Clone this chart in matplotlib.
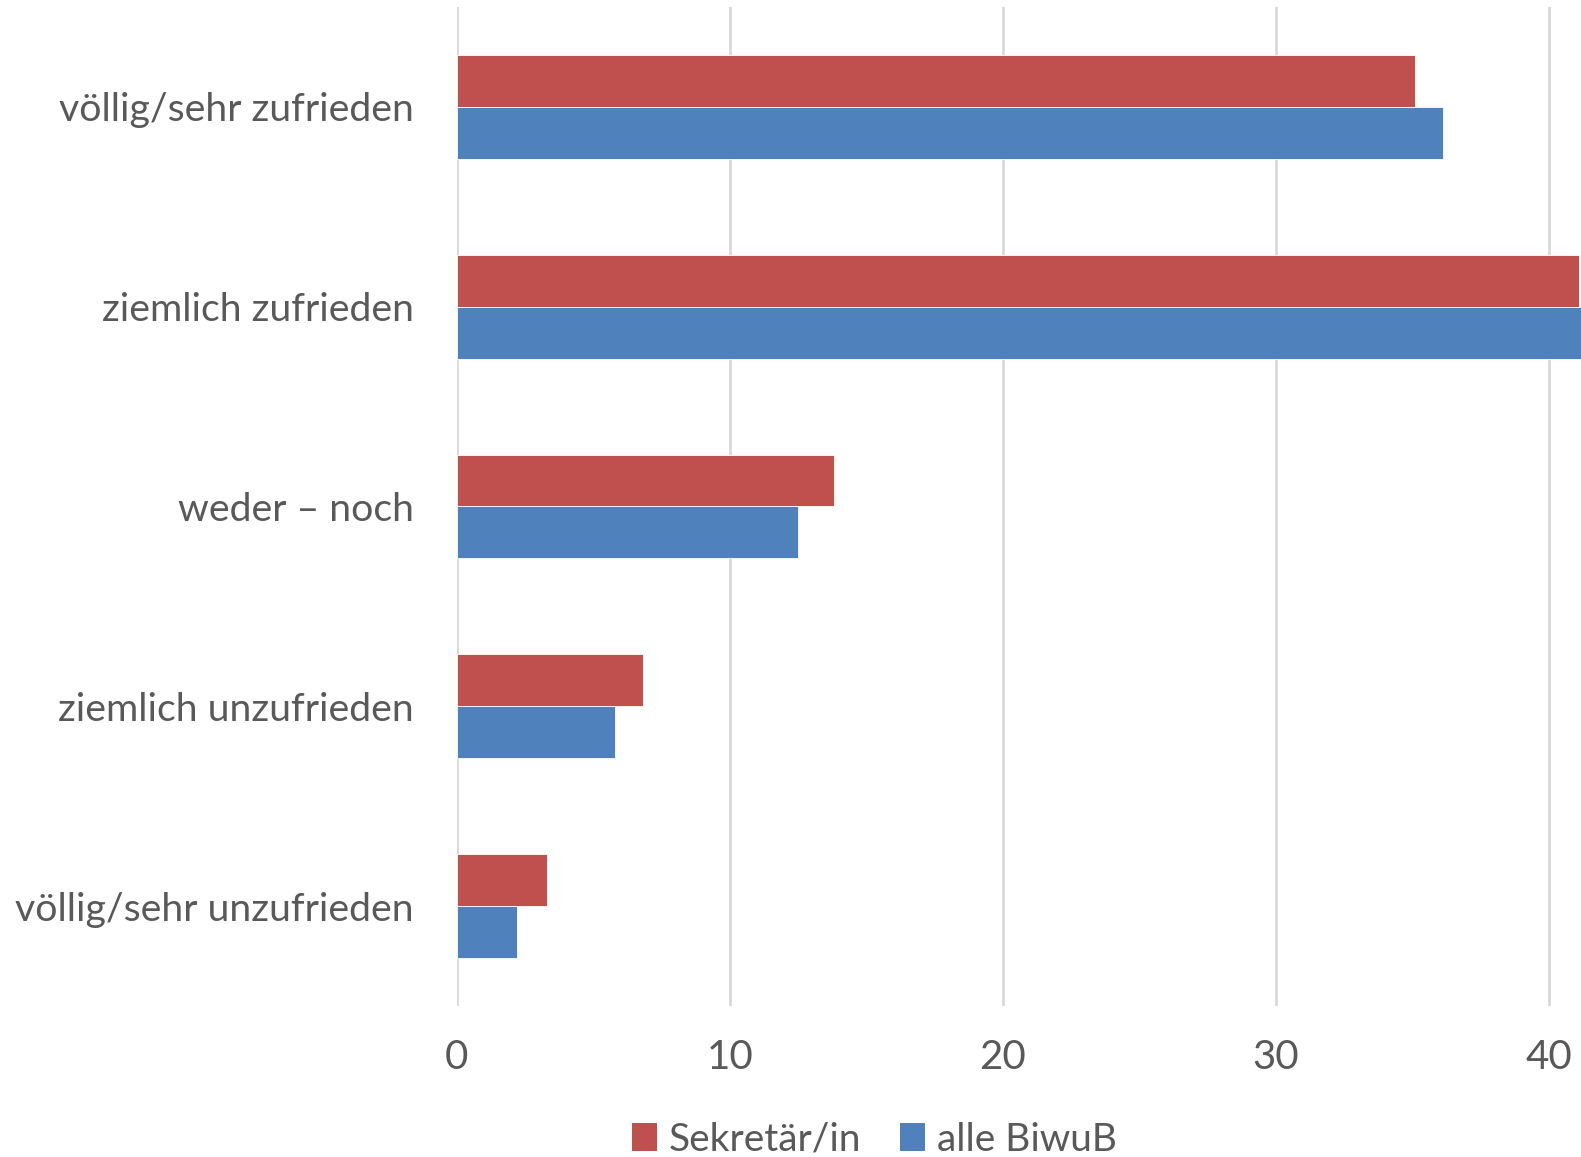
import numpy as np
import matplotlib
matplotlib.use("Agg")
import matplotlib.pyplot as plt
from matplotlib.patches import Patch

# Zufriedenheit: Anteile in Prozent
kategorien = ["völlig/sehr zufrieden", "ziemlich zufrieden", "weder – noch",
              "ziemlich unzufrieden", "völlig/sehr unzufrieden"]
sekretaer = [35.1, 41.1, 13.8, 6.8, 3.3]
alle_biwub = [36.1, 42.0, 12.5, 5.8, 2.2]
x_ticks = [0, 10, 20, 30, 40]

ROT = "#C0504D"
BLAU = "#4F81BD"
TEXT = "#595959"
GITTER = "#D9D9D9"

plt.rcParams['font.family'] = ['Lato', 'DejaVu Sans']

fig = plt.figure(figsize=(15.81, 11.57), dpi=100)
ax = fig.add_axes([0.289, 0.1305, 0.711, 0.8635])

y = np.arange(len(kategorien))
h = 0.26
ax.barh(y - h / 2, sekretaer, height=h, color=ROT, edgecolor="white", linewidth=0.6, zorder=3)
ax.barh(y + h / 2, alle_biwub, height=h, color=BLAU, edgecolor="white", linewidth=0.6, zorder=3)

ax.set_ylim(len(kategorien) - 0.5, -0.5)
ax.set_xlim(0, 41.17)

ax.set_yticks(y)
ax.set_yticklabels(kategorien, fontsize=28.3, color=TEXT)
ax.set_xticks(x_ticks)
ax.set_xticklabels([str(t) for t in x_ticks], fontsize=29, color=TEXT)
ax.tick_params(axis="y", length=0, pad=31)
ax.tick_params(axis="x", length=0, pad=24)

ax.grid(axis="x", color=GITTER, linewidth=2, zorder=0)
for s in ["top", "right", "bottom", "left"]:
    ax.spines[s].set_visible(False)

handles = [Patch(facecolor=ROT, label="Sekretär/in"),
           Patch(facecolor=BLAU, label="alle BiwuB")]
leg = fig.legend(handles=handles, loc="center", bbox_to_anchor=(0.553, 0.015),
                 ncol=2, frameon=False, fontsize=28, handlelength=0.65,
                 handleheight=0.75, handletextpad=0.3, columnspacing=1.0)
for t in leg.get_texts():
    t.set_color(TEXT)

fig.savefig("out.png", dpi=100)
